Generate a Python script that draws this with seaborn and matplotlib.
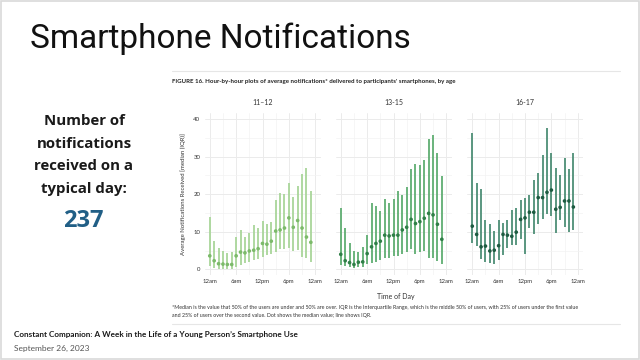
import numpy as np
import pandas as pd
import matplotlib
matplotlib.use("Agg")
import matplotlib.pyplot as plt
import seaborn as sns
from matplotlib.ticker import MultipleLocator

# hours of the day (0 = 12am)
hours = list(range(24))
age_groups = ["11–12", "13-15", "16-17"]

# medians and IQR
med_11_12 = [3.6, 2.3, 1.5, 1.4, 1.3, 1.3, 3.6, 4.6, 4.4, 4.9, 5.1, 5.5,
             6.9, 6.7, 7.5, 10.2, 10.5, 11.0, 13.7, 11.2, 13.0, 11.0, 8.6, 7.2]
hi_11_12 = [14.0, 7.6, 5.7, 4.8, 4.3, 4.5, 8.7, 10.6, 8.7, 9.8, 11.7, 10.9,
            13.0, 12.1, 12.7, 18.4, 20.4, 20.0, 23.0, 19.3, 22.1, 25.5, 27.1, 20.9]
lo_11_12 = [0.8, 0.3, 0.0, 0.0, 0.0, 0.0, 0.7, 1.2, 1.6, 2.0, 2.5, 2.8,
            3.3, 3.8, 4.2, 4.7, 5.3, 5.5, 5.6, 5.0, 5.2, 3.4, 2.9, 2.0]

med_13_15 = [4.0, 2.3, 1.8, 1.3, 1.9, 2.0, 4.2, 6.0, 6.9, 7.5, 9.1, 8.9,
             9.1, 9.1, 10.5, 11.2, 13.3, 12.2, 12.7, 13.6, 14.9, 14.5, 12.0, 8.0]
hi_13_15 = [16.2, 10.9, 7.1, 4.9, 4.7, 6.0, 9.1, 17.7, 16.8, 15.5, 18.8, 17.7,
            18.8, 20.8, 19.8, 21.8, 26.6, 28.0, 27.8, 29.1, 34.6, 35.7, 30.9, 24.9]
lo_13_15 = [1.1, 0.9, 0.5, 0.3, 0.5, 0.7, 1.4, 1.8, 2.0, 2.5, 3.0, 3.0,
            3.5, 3.5, 4.0, 4.5, 5.5, 4.0, 4.5, 5.0, 3.0, 3.0, 2.3, 1.5]

med_16_17 = [11.5, 9.3, 6.0, 6.2, 4.9, 5.1, 6.3, 9.3, 9.1, 8.8, 9.9, 13.3,
             13.7, 15.2, 15.2, 19.1, 19.1, 20.5, 21.1, 16.0, 16.5, 18.2, 18.2, 16.6]
hi_16_17 = [36.2, 23.0, 21.3, 13.1, 12.2, 10.3, 13.1, 12.4, 13.1, 15.8, 16.2, 18.4,
            19.1, 19.8, 23.8, 25.7, 30.3, 37.5, 30.9, 26.9, 25.1, 29.5, 26.6, 30.9]
lo_16_17 = [6.9, 6.2, 2.7, 2.0, 1.6, 1.5, 2.5, 3.8, 5.8, 6.4, 6.6, 8.0,
            4.2, 10.9, 9.4, 12.2, 13.5, 14.6, 14.2, 9.6, 13.1, 11.2, 10.0, 10.6]

tick_pos = [0, 6, 12, 18, 24]
tick_labels = ["12am", "6am", "12pm", "6pm", "12am"]

panels = [
    (med_11_12, lo_11_12, hi_11_12, "#a9d69a", "#7cba6a"),
    (med_13_15, lo_13_15, hi_13_15, "#5fae72", "#2f7f47"),
    (med_16_17, lo_16_17, hi_16_17, "#4d8f76", "#1d5b41"),
]

sns.set_theme(style="white")
plt.rcParams["font.family"] = ["Lato", "DejaVu Sans"]

W, H = 640, 360
fig = plt.figure(figsize=(6.4, 3.6), dpi=100)
fig.patch.set_facecolor("white")

def fx(px):
    return px / W

def fy(py):
    return 1 - py / H

# slide border
fig.patches.append(plt.Rectangle((0.002, 0.003), 0.996, 0.994, transform=fig.transFigure,
                                 fill=False, edgecolor="#d9d9d9", linewidth=1.2))

fig.text(fx(30), fy(39), "Smartphone Notifications", fontsize=24, family="Roboto",
         color="#111111", va="center", ha="left")

left_lines = ["Number of", "notifications", "received on a", "typical day:"]
for i, line in enumerate(left_lines):
    fig.text(fx(84), fy(121 + 22.5 * i), line, fontsize=10.8, fontweight="bold",
             family="Open Sans", color="#1a1a1a", ha="center", va="center")
fig.text(fx(83), fy(221), "237", fontsize=17, fontweight="bold", family="Open Sans",
         color="#215f86", ha="center", va="center")

# figure frame lines
fig.add_artist(plt.Line2D([fx(172), fx(620)], [fy(71), fy(71)], transform=fig.transFigure,
                          color="#e6e6e6", linewidth=0.8))
fig.add_artist(plt.Line2D([fx(172), fx(620)], [fy(324), fy(324)], transform=fig.transFigure,
                          color="#e6e6e6", linewidth=0.8))

fig.text(fx(172), fy(82), "FIGURE 16. Hour-by-hour plots of average notifications* delivered to participants' smartphones, by age",
         fontsize=4.4, fontweight="bold", color="#222222", va="center", ha="left")

lefts = [204.5, 335.5, 467.0]
ax_w = 116
ax_top, ax_bot = 113.4, 275.0
axes = []
for k, (med, lo, hi, line_c, dot_c) in enumerate(panels):
    ax = fig.add_axes([fx(lefts[k]), fy(ax_bot), fx(ax_w), (ax_bot - ax_top) / H])
    df = pd.DataFrame({"hour": hours, "median": med, "lo": lo, "hi": hi})
    ax.vlines(df["hour"], df["lo"], df["hi"], color=line_c, linewidth=1.3, zorder=2)
    sns.scatterplot(data=df, x="hour", y="median", ax=ax, color=dot_c, s=7,
                    edgecolor="none", zorder=3, legend=False)
    ax.set_xlim(-1.2, 25.2)
    ax.set_ylim(-1.5, 41.5)
    ax.xaxis.set_major_locator(MultipleLocator(6))
    ax.xaxis.set_minor_locator(MultipleLocator(3))
    ax.yaxis.set_major_locator(MultipleLocator(10))
    ax.yaxis.set_minor_locator(MultipleLocator(5))
    ax.set_xticks(tick_pos)
    ax.set_xticklabels(tick_labels)
    ax.grid(True, which="major", color="#ebebeb", linewidth=0.7)
    ax.grid(True, which="minor", color="#f3f3f3", linewidth=0.5)
    ax.set_axisbelow(True)
    for s in ax.spines.values():
        s.set_visible(False)
    ax.tick_params(axis="both", which="both", length=0, labelsize=4.3, colors="#333333", pad=3)
    ax.set_xlabel("")
    ax.set_ylabel("")
    if k > 0:
        ax.tick_params(axis="y", labelleft=False)
    ax.set_title(age_groups[k], fontsize=5, color="#333333", pad=6)
    axes.append(ax)

axes[0].set_ylabel("Average Notifications Received [median (IQR)]", fontsize=4.3,
                   color="#333333", labelpad=5)

fig.text(fx(396), fy(297), "Time of Day", fontsize=5, color="#333333", ha="center", va="center")

fig.text(fx(172), fy(308), "*Median is the value that 50% of the users are under and 50% are over. IQR is the Interquartile Range, which is the middle 50% of users, with 25% of users under the first value",
         fontsize=3.75, color="#333333", ha="left", va="center")
fig.text(fx(172), fy(316), "and 25% of users over the second value. Dot shows the median value; line shows IQR.",
         fontsize=3.75, color="#333333", ha="left", va="center")

fig.text(fx(14), fy(335), "Constant Companion: A Week in the Life of a Young Person\u2019s Smartphone Use",
         fontsize=5.9, fontweight="bold", color="#1a1a1a", ha="left", va="center")
fig.text(fx(14), fy(348), "September 26, 2023", fontsize=6, color="#555555", ha="left", va="center")

fig.savefig("out.png", dpi=100, facecolor="white")
